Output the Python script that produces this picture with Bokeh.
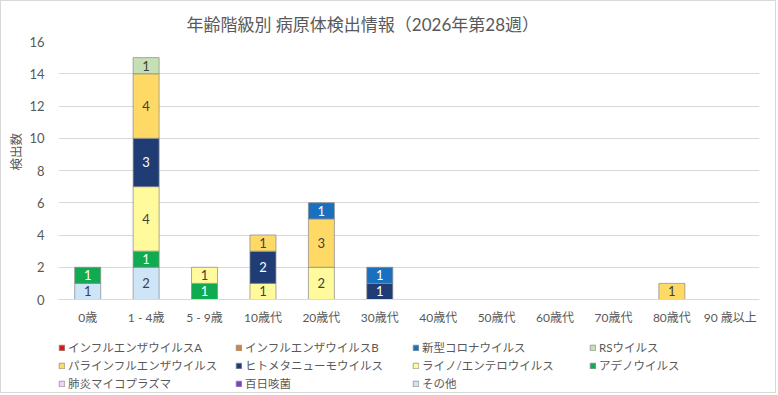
import numpy as np
from bokeh.plotting import figure
from bokeh.layouts import column
from bokeh.models import Legend, LegendItem, Title, FactorRange, Range1d, ColumnDataSource
from bokeh.core.properties import value
from bokeh.embed import file_html
from bokeh.resources import INLINE

# Age groups on the x axis
ages = ["0歳", "1 - 4歳", "5 - 9歳", "10歳代", "20歳代", "30歳代",
        "40歳代", "50歳代", "60歳代", "70歳代", "80歳代", "90 歳以上"]

# Detections per pathogen and age group
flu_a     = [0, 0, 0, 0, 0, 0, 0, 0, 0, 0, 0, 0]
flu_b     = [0, 0, 0, 0, 0, 0, 0, 0, 0, 0, 0, 0]
covid     = [0, 0, 0, 0, 1, 1, 0, 0, 0, 0, 0, 0]
rsv       = [0, 1, 0, 0, 0, 0, 0, 0, 0, 0, 0, 0]
parainflu = [0, 4, 0, 1, 3, 0, 0, 0, 0, 0, 1, 0]
hmpv      = [0, 3, 0, 2, 0, 1, 0, 0, 0, 0, 0, 0]
rhino     = [0, 4, 1, 1, 2, 0, 0, 0, 0, 0, 0, 0]
adeno     = [1, 1, 1, 0, 0, 0, 0, 0, 0, 0, 0, 0]
myco      = [0, 0, 0, 0, 0, 0, 0, 0, 0, 0, 0, 0]
pertussis = [0, 0, 0, 0, 0, 0, 0, 0, 0, 0, 0, 0]
other     = [1, 2, 0, 0, 0, 0, 0, 0, 0, 0, 0, 0]

series_names = ["インフルエンザウイルスA", "インフルエンザウイルスB", "新型コロナウイルス",
                "RSウイルス", "パラインフルエンザウイルス", "ヒトメタニューモウイルス",
                "ライノ/エンテロウイルス", "アデノウイルス", "肺炎マイコプラズマ",
                "百日咳菌", "その他"]
series_values = [flu_a, flu_b, covid, rsv, parainflu, hmpv, rhino, adeno,
                 myco, pertussis, other]
series_colors = ["#DD1515", "#D5833F", "#1A6FBF", "#C5E0B4", "#FFD966", "#1F3C74",
                 "#FFFA9C", "#10AA50", "#F3D0F7", "#7B3FCF", "#CDE5F6"]
label_colors = ["#FFFFFF", "#404040", "#FFFFFF", "#404040", "#404040", "#FFFFFF",
                "#404040", "#FFFFFF", "#404040", "#FFFFFF", "#404040"]

TEXT = "#595959"
GRID = "#D9D9D9"
EDGE = "#8C8C8C"
LATIN = "Lato, 'Noto Sans CJK JP'"
CJK = "'Noto Sans CJK JP'"
BORDER = "1px solid #D9D9D9"

x_range = FactorRange(factors=ages, range_padding=0)
y_range = Range1d(0, 16)

# ---- main chart -------------------------------------------------------------
p = figure(width=776, height=337, output_backend="svg", toolbar_location=None,
           x_range=x_range, y_range=y_range,
           min_border_left=56, min_border_right=18,
           min_border_top=40, min_border_bottom=39)
p.styles = {"border": BORDER, "border-bottom": "none"}
p.outline_line_color = None
p.background_fill_color = "white"
p.border_fill_color = "white"

# Stack from the last series (bottom) up to the first (top)
bottoms = np.zeros(len(ages))
for i in reversed(range(len(series_names))):
    vals = np.array(series_values[i], dtype=float)
    tops = bottoms + vals
    keep = vals > 0
    src = ColumnDataSource(dict(
        x=[a for a, k in zip(ages, keep) if k],
        bottom=bottoms[keep].tolist(),
        top=tops[keep].tolist(),
        mid=((bottoms + tops) / 2)[keep].tolist(),
        txt=[str(int(v)) for v in vals[keep]],
    ))
    p.vbar(x="x", bottom="bottom", top="top", width=0.445, source=src,
           fill_color=series_colors[i], line_color=EDGE, line_width=0.75)
    p.text(x="x", y="mid", text="txt", source=src, text_align="center",
           text_baseline="middle", text_color=label_colors[i],
           text_font=value(LATIN), text_font_size="13px")
    bottoms = tops

# Axes and grid
p.yaxis.ticker = list(range(0, 17, 2))
p.ygrid.grid_line_color = GRID
p.xgrid.grid_line_color = None
for ax in (p.xaxis, p.yaxis):
    ax.major_tick_line_color = None
    ax.minor_tick_line_color = None
    ax.major_tick_out = 0
    ax.major_tick_in = 0
    ax.major_label_text_color = TEXT
    ax.major_label_text_font = LATIN
p.yaxis.axis_line_color = None
p.xaxis.axis_line_color = GRID
p.yaxis.major_label_text_font_size = "13px"
p.yaxis.major_label_standoff = 14
p.xaxis.major_label_text_font_size = "12px"
p.xaxis.major_label_standoff = 10

# Chart title
p.add_layout(Title(text="年齢階級別 病原体検出情報（2026年第28週）",
                   align="left", offset=128, standoff=13,
                   text_font=LATIN, text_font_size="17px",
                   text_font_style="normal", text_color=TEXT), "above")

# y-axis title
p.add_layout(Title(text="検出数", align="left", offset=129, standoff=4,
                   text_font=CJK, text_font_size="12.5px",
                   text_font_style="normal", text_color=TEXT), "left")

# ---- legend strip -----------------------------------------------------------
lf = figure(width=776, height=56, output_backend="svg", toolbar_location=None,
            x_range=x_range, y_range=y_range, x_axis_type=None, y_axis_type=None,
            min_border=0)
lf.styles = {"border": BORDER, "border-top": "none"}
lf.outline_line_color = None
lf.grid.visible = False
lf.background_fill_color = "white"
lf.border_fill_color = "white"

# Legend keys: one hidden series renderer each
keys = []
for i, vals in enumerate(series_values):
    r = lf.vbar(x=ages, top=vals, width=0.445, fill_color=series_colors[i],
                line_color=EDGE, line_width=0.75)
    r.visible = False
    keys.append(r)

ncols = 4
nrows = -(-len(series_names) // ncols)
for row in range(nrows):
    idx = range(row * ncols, min((row + 1) * ncols, len(series_names)))
    items = [LegendItem(label=series_names[i], renderers=[keys[i]]) for i in idx]
    leg = Legend(items=items, orientation="horizontal",
                 location=(0, 55 - 18 * (row + 1)),
                 padding=0, margin=0, spacing=0,
                 glyph_width=7, glyph_height=7, label_height=18, label_width=167,
                 label_standoff=3, label_text_font=LATIN,
                 label_text_font_size="11.5px", label_text_color=TEXT,
                 border_line_color=None, background_fill_alpha=0,
                 inactive_fill_alpha=0)
    lf.add_layout(leg, "center")

open("out.html", "w").write(file_html(column(p, lf, spacing=0), INLINE))
